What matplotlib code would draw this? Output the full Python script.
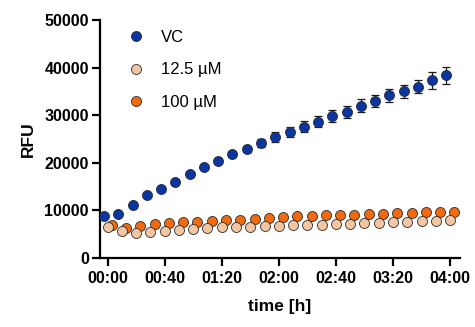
import matplotlib
matplotlib.use("Agg")
import matplotlib.pyplot as plt
from matplotlib.ticker import FuncFormatter, FixedLocator
from matplotlib.lines import Line2D

plt.rcParams['font.family'] = ['Liberation Sans', 'DejaVu Sans']

# time points (minutes)
time_min = [0, 10, 20, 30, 40, 50, 60, 70, 80, 90, 100, 110, 120,
            130, 140, 150, 160, 170, 180, 190, 200, 210, 220, 230, 240]
# per-series read-out offsets (minutes)
offset_vc = -2.5
offset_low = 0.0
offset_high = 3.0

vc = [8700, 9150, 11000, 13100, 14500, 15900, 17500, 19070, 20250, 21700,
      22870, 24130, 25320, 26450, 27510, 28630, 29750, 30670, 32000, 32900,
      34110, 35020, 35950, 37280, 38330]
vc_err = [200, 250, 300, 350, 350, 400, 450, 500, 550, 600, 700, 900, 1100,
          1100, 1150, 1150, 1200, 1200, 1300, 1300, 1350, 1350, 1400, 1700, 1700]

low = [6450, 5490, 5150, 5270, 5490, 5840, 5990, 6200, 6330, 6330, 6410,
       6540, 6690, 6750, 6900, 6900, 7050, 7110, 7260, 7260, 7380, 7470,
       7600, 7600, 7800]
low_err = [250] * 25

high = [6900, 6200, 6690, 7050, 7260, 7380, 7470, 7600, 7800, 7950, 8100,
        8310, 8520, 8650, 8800, 8860, 9000, 9000, 9220, 9220, 9370, 9370,
        9490, 9490, 9490]
high_err = [250] * 25

labels = ['VC', '12.5 µM', '100 µM']
colors = ['#0B35A0', '#F3C6A3', '#F26A10']
edge = '#2a2a2a'

xticks = [0, 40, 80, 120, 160, 200, 240]
yticks = [0, 10000, 20000, 30000, 40000, 50000]

fig = plt.figure(figsize=(4.75, 3.27), dpi=100)
ax = fig.add_axes([0.2105, 0.2125, 0.758, 0.7263])

ms = 7.2
series = [
    (high, high_err, offset_high, colors[2], 2),
    (low, low_err, offset_low, colors[1], 3),
    (vc, vc_err, offset_vc, colors[0], 4),
]
for y, e, off, c, z in series:
    t = [v + off for v in time_min]
    ax.errorbar(t, y, yerr=e, fmt='none', ecolor='#1a1a1a', elinewidth=0.9,
                capsize=3, capthick=0.9, zorder=z - 0.5)
    ax.plot(t, y, 'o', color=c, markersize=ms, markeredgecolor=edge,
            markeredgewidth=0.6, zorder=z)

ax.set_xlim(-5.3, 247)
ax.set_ylim(0, 50000)
ax.xaxis.set_major_locator(FixedLocator(xticks))
ax.yaxis.set_major_locator(FixedLocator(yticks))
ax.xaxis.set_major_formatter(FuncFormatter(lambda v, p: f"{int(v)//60:02d}:{int(v)%60:02d}"))

for s in ['top', 'right']:
    ax.spines[s].set_visible(False)
for s in ['left', 'bottom']:
    ax.spines[s].set_linewidth(1.6)
ax.tick_params(axis='both', width=1.6, length=6, labelsize=11.5, pad=2)
ax.tick_params(axis='x', pad=4)
for lbl in ax.get_xticklabels() + ax.get_yticklabels():
    lbl.set_fontweight('bold')

ax.set_ylabel('RFU', fontsize=12.5, fontweight='bold', labelpad=6)
ax.set_xlabel('time [h]', fontsize=12.5, fontweight='bold', labelpad=9)

handles = [Line2D([], [], marker='o', linestyle='none', color=c,
                  markersize=ms, markeredgecolor=edge, markeredgewidth=0.6)
           for c in colors]
leg = ax.legend(handles, labels, loc='upper left',
                bbox_to_anchor=(0.03, 1.02), frameon=False, fontsize=12,
                handletextpad=0.9, labelspacing=1.03, handlelength=1.2)

fig.savefig('out.png', dpi=100)
